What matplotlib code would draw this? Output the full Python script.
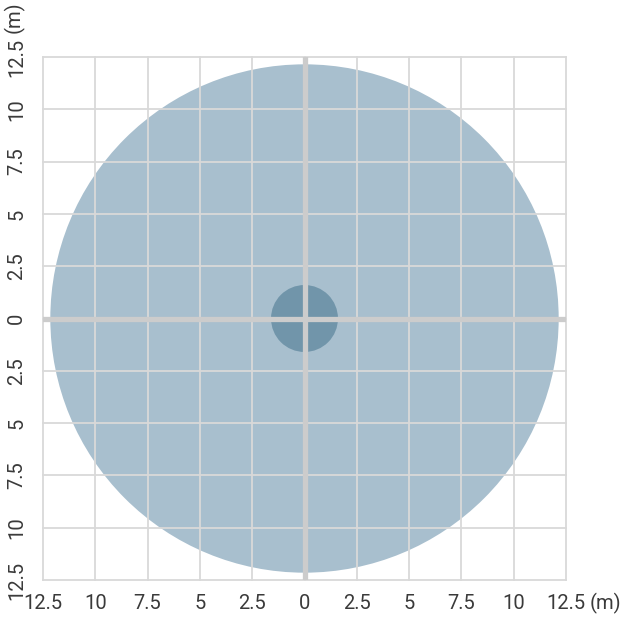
import matplotlib.pyplot as plt
from matplotlib.patches import Circle
import numpy as np

# data
ticks = [-12.5, -10, -7.5, -5, -2.5, 0, 2.5, 5, 7.5, 10, 12.5]
tick_labels = ["12.5", "10", "7.5", "5", "2.5", "0", "2.5", "5", "7.5", "10", "12.5"]
outer_radius = 12.15
inner_radius = 1.6
unit = "(m)"

plt.rcParams['font.family'] = ['Roboto', 'DejaVu Sans']

fig = plt.figure(figsize=(6.23, 6.19), dpi=100)
ax = fig.add_axes([43/623, 39/619, 523/623, 523/619])

ax.add_patch(Circle((0, 0), outer_radius, color='#a8bfce', zorder=1, lw=0))
ax.add_patch(Circle((0, 0), inner_radius, color='#7195aa', zorder=2, lw=0))

ax.set_xlim(-12.5, 12.5)
ax.set_ylim(-12.5, 12.5)
ax.set_aspect('equal')

for t in ticks:
    ax.axvline(t, color='#d9d9d9', lw=1.3, zorder=3, clip_on=False)
    ax.axhline(t, color='#d9d9d9', lw=1.3, zorder=3, clip_on=False)
ax.axvline(0, color='#cccccc', lw=3.8, zorder=4)
ax.axhline(0, color='#cccccc', lw=3.8, zorder=4)

for s in ax.spines.values():
    s.set_visible(False)

txt = dict(fontsize=14.5, color='#3a3a3a')
ax.set_xticks(ticks)
ax.set_xticklabels(tick_labels, **txt)
ax.set_yticks(ticks)
ax.set_yticklabels(tick_labels, rotation=90, va='center', **txt)
ax.tick_params(length=0, pad=10)
ax.tick_params(axis='y', pad=12)

ax.annotate(unit, xy=(12.5, -12.5), xycoords='data', xytext=(24, -13),
            textcoords='offset pixels', ha='left', va='top',
            annotation_clip=False, **txt)
ax.annotate(unit, xy=(-12.5, 12.5), xycoords='data', xytext=(-29, 24),
            textcoords='offset pixels', ha='center', va='bottom', rotation=90,
            annotation_clip=False, **txt)

fig.savefig('out.png', dpi=100)
